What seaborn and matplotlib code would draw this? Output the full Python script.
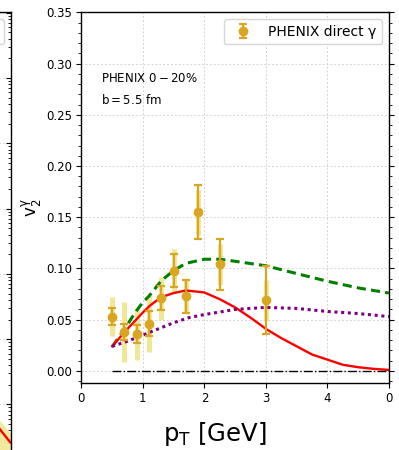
import numpy as np
import pandas as pd
import matplotlib
matplotlib.use("Agg")
import matplotlib.pyplot as plt
import seaborn as sns
from matplotlib.ticker import MultipleLocator, LogLocator, NullFormatter

# PHENIX direct-photon elliptic flow, 0-20% centrality
pt_data = [0.5, 0.7, 0.9, 1.1, 1.3, 1.5, 1.7, 1.9, 2.25, 3.0]
v2_data = [0.053, 0.038, 0.036, 0.046, 0.071, 0.098, 0.073, 0.155, 0.104, 0.069]
v2_stat = [0.008, 0.008, 0.009, 0.012, 0.012, 0.016, 0.016, 0.026, 0.025, 0.033]
v2_sys = [0.019, 0.029, 0.025, 0.028, 0.021, 0.021, 0.016, 0.022, 0.020, 0.020]

# model curves
pt_green = [0.5, 0.6, 0.7, 0.8, 0.9, 1.0, 1.1, 1.3, 1.5, 1.7, 2.0, 2.25, 2.5,
            3.0, 3.5, 4.0, 4.5, 5.0]
v2_green = [0.0235, 0.032, 0.040, 0.050, 0.059, 0.067, 0.073, 0.088, 0.098,
            0.105, 0.109, 0.109, 0.107, 0.1026, 0.095, 0.0875, 0.081, 0.076]

pt_red = [0.5, 0.75, 1.0, 1.12, 1.3, 1.5, 1.7, 2.0, 2.25, 2.5, 2.75, 3.0,
          3.25, 3.5, 3.75, 4.0, 4.25, 4.5, 4.75, 5.0]
v2_red = [0.024, 0.041, 0.057, 0.064, 0.072, 0.076, 0.0785, 0.0766, 0.070,
          0.062, 0.052, 0.041, 0.032, 0.024, 0.016, 0.011, 0.006, 0.0036,
          0.002, 0.001]

pt_purple = [0.5, 0.75, 1.0, 1.25, 1.5, 1.75, 2.0, 2.5, 3.0, 3.5, 4.0, 4.5, 5.0]
v2_purple = [0.024, 0.029, 0.035, 0.041, 0.047, 0.052, 0.055, 0.060, 0.062,
             0.061, 0.058, 0.056, 0.053]

pt_zero = [0.5, 5.0]
v2_zero = [0.0, 0.0]

xtick_pos = [0, 1, 2, 3, 4, 5]
xtick_labels = ["0", "1", "2", "3", "4", "0"]

# neighbouring spectrum panel (log scale)
pt_spec = [4.5, 4.75, 5.0]
yield_spec = [1.07e-5, 5.2e-6, 2.6e-6]
yield_lo = [1.0e-6, 5.0e-7, 2.5e-7]
yield_hi = [1.4e-5, 7.0e-6, 3.6e-6]

sns.set_style("ticks")
plt.rcParams["font.family"] = ["DejaVu Sans"]
plt.rcParams["mathtext.default"] = "regular"
plt.rcParams["text.color"] = "black"
plt.rcParams["axes.labelcolor"] = "black"
plt.rcParams["xtick.color"] = "black"
plt.rcParams["ytick.color"] = "black"

W, H = 399, 450
fig = plt.figure(figsize=(W / 100, H / 100), dpi=100)

grid_kw = dict(color="#d4d4d4", linestyle=(0, (2, 2)), linewidth=0.7)

# ---- left spectrum panel (mostly outside the canvas) ----
ax0 = fig.add_axes([-0.75, -0.1, 0.75 + 10.5 / W, 0.1 + 1 - 12.3 / H])
ax0.set_yscale("log")
ax0.set_xlim(0, 5)
ax0.set_ylim(10 ** (1.006 - 7.392), 10 ** 1.006)
ax0.fill_between(pt_spec, yield_lo, yield_hi, color="khaki", alpha=0.85, lw=0,
                 label="direct γ")
sns.lineplot(x=pt_spec, y=yield_spec, ax=ax0, color="red", lw=1.7)
ax0.yaxis.set_major_locator(LogLocator(base=10, numticks=20))
ax0.yaxis.set_minor_locator(LogLocator(base=10, subs=np.arange(2, 10), numticks=20))
ax0.yaxis.set_minor_formatter(NullFormatter())
ax0.tick_params(axis="y", which="both", left=False, right=True, labelleft=False,
                labelright=False, direction="in")
ax0.tick_params(axis="y", which="major", length=3.5, width=0.8)
ax0.tick_params(axis="y", which="minor", length=2, width=0.6)
ax0.tick_params(axis="x", which="both", bottom=False, labelbottom=False)
ax0.grid(True, which="major", **grid_kw)
ax0.set_axisbelow(True)
ax0.legend(loc="upper right", fontsize=10, frameon=True)
for s in ax0.spines.values():
    s.set_color("black")
    s.set_linewidth(1.0)

# ---- main v2 panel ----
L, R, T, B = 81.3, 389.0, 12.3, 382.7
ax = fig.add_axes([L / W, 1 - B / H, (R - L) / W, (B - T) / H])

ax.errorbar(pt_data, v2_data, yerr=v2_sys, fmt="none", ecolor="khaki",
            elinewidth=3.6, alpha=0.9, zorder=2)

sns.lineplot(x=pt_green, y=v2_green, ax=ax, color="green", lw=2.2,
             zorder=3).lines[-1].set_dashes((3.0, 1.7))
sns.lineplot(x=pt_red, y=v2_red, ax=ax, color="red", lw=1.7, zorder=3)
sns.lineplot(x=pt_purple, y=v2_purple, ax=ax, color="purple", lw=2.2,
             zorder=3).lines[-1].set_dashes((1.0, 1.2))
sns.lineplot(x=pt_zero, y=v2_zero, ax=ax, color="black", lw=1.0,
             linestyle="-.", zorder=3)

ax.errorbar(pt_data, v2_data, yerr=v2_stat, fmt="o", color="goldenrod",
            ecolor="goldenrod", ms=6, elinewidth=1.6, capsize=3, capthick=1.6,
            zorder=4, label="PHENIX direct γ")

ax.set_xlim(0, 5)
ax.set_ylim(-0.0115, 0.35)
ax.set_xticks(xtick_pos)
ax.set_xticklabels(xtick_labels)
ax.yaxis.set_major_locator(MultipleLocator(0.05))
ax.yaxis.set_minor_locator(MultipleLocator(0.01))
ax.yaxis.set_major_formatter(matplotlib.ticker.FormatStrFormatter("%.2f"))
ax.tick_params(axis="both", which="major", labelsize=8.5, length=3.5,
               width=0.8, direction="out", color="black", pad=3)
ax.tick_params(axis="y", which="both", right=True)
ax.tick_params(axis="y", which="minor", length=2, width=0.6)
ax.grid(True, which="major", **grid_kw)
ax.set_axisbelow(True)
for s in ax.spines.values():
    s.set_color("black")
    s.set_linewidth(1.0)

ax.text(0.064, 0.820, "PHENIX $0-20\\%$", transform=ax.transAxes,
        fontsize=8.5, va="center", ha="left")
ax.text(0.064, 0.763, "$b=5.5$ fm", transform=ax.transAxes,
        fontsize=8.5, va="center", ha="left")

ax.set_xlabel("$p_T$ [GeV]", fontsize=17.5)
ax.xaxis.set_label_coords((215 - L) / (R - L), (B - 420) / (B - T))
ax.set_ylabel("$v_2^{\\gamma}$", fontsize=12)
ax.yaxis.set_label_coords((44 - L) / (R - L), (B - 208) / (B - T))

ax.legend(loc="upper right", fontsize=10, frameon=True)

fig.savefig("out.png", dpi=100)
